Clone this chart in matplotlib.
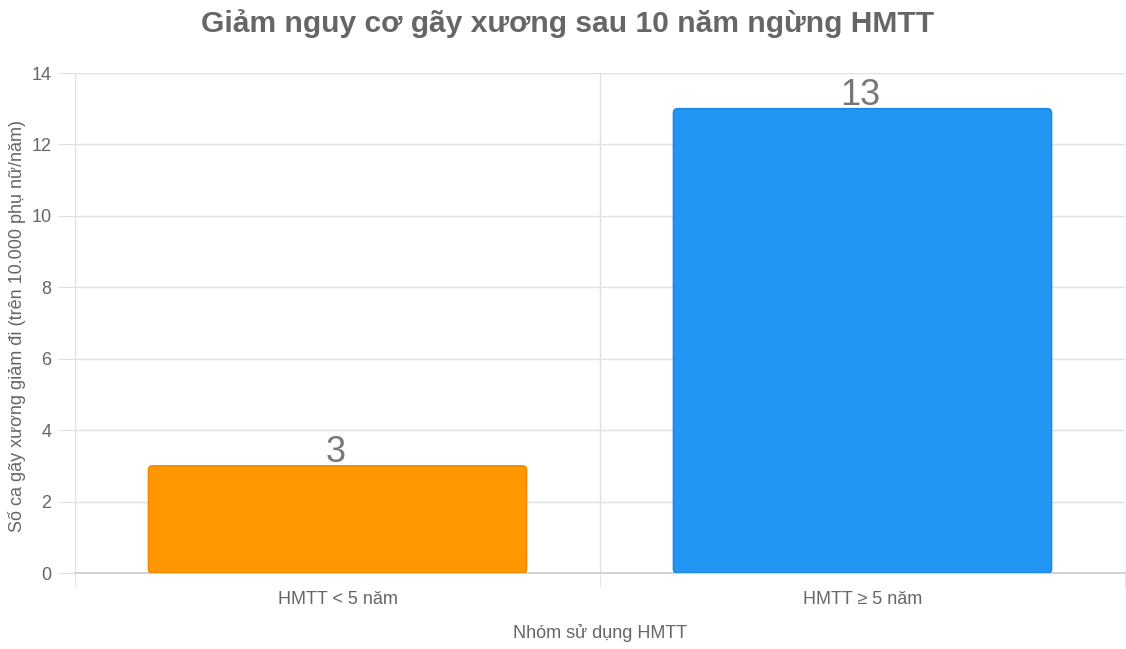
import matplotlib.pyplot as plt
from matplotlib.patches import FancyBboxPatch

plt.rcParams['font.family'] = ['Liberation Sans', 'DejaVu Sans']

# Dữ liệu
categories = ['HMTT < 5 năm', 'HMTT ≥ 5 năm']
values = [3, 13]
colors = ['#FF9800', '#2196F3']
edge_colors = ['#F08A00', '#1E88E5']

fig = plt.figure(figsize=(11.26, 6.49), dpi=100)
ax = fig.add_axes([0.0666, 0.117, 0.9325, 0.7705])

bars = ax.bar(range(len(categories)), values, width=0.72, color=colors,
              edgecolor=edge_colors, linewidth=1.2, zorder=3)

ax.set_xlim(-0.5, len(categories) - 0.5)
ax.set_ylim(0, 14)

# bo tròn góc trên của cột
aspect = (14 / 500) / (2 / 1050)
for b, fc, ec in zip(bars, colors, edge_colors):
    b.set_visible(False)
    p = FancyBboxPatch((b.get_x(), b.get_y()), b.get_width(), b.get_height(),
                       boxstyle='round,pad=0,rounding_size=0.008',
                       mutation_aspect=aspect, facecolor=fc, edgecolor=ec,
                       linewidth=1.2, zorder=3)
    ax.add_patch(p)
    ax.text(b.get_x() + b.get_width() / 2 - 0.004, b.get_height() + 0.11, str(int(b.get_height())),
            ha='center', va='baseline', fontsize=26, color='#777777', zorder=4)

ax.set_yticks(range(0, 15, 2))
ax.set_xticks(range(len(categories)))
ax.set_xticklabels(categories)
ax.set_xticks([-0.5, 0.5, 1.5], minor=True)

ax.tick_params(axis='y', length=12, color='#e0e0e0', labelsize=13, labelcolor='#666666', pad=5)
ax.tick_params(axis='x', which='major', length=0, labelsize=13, labelcolor='#666666', pad=13)
ax.tick_params(axis='x', which='minor', length=10, color='#e0e0e0')

ax.grid(axis='y', color='#e0e0e0', linewidth=1, zorder=0)
ax.grid(axis='x', which='minor', color='#e0e0e0', linewidth=1, zorder=0)

for s in ['top', 'right', 'left']:
    ax.spines[s].set_visible(False)
ax.spines['bottom'].set_color('#cccccc')
ax.spines['bottom'].set_linewidth(1.2)

ax.set_xlabel('Nhóm sử dụng HMTT', fontsize=13, color='#666666')
ax.set_ylabel('Số ca gãy xương giảm đi (trên 10.000 phụ nữ/năm)', fontsize=13, color='#666666')
ax.xaxis.set_label_coords(0.5, -0.102)
ax.yaxis.set_label_coords(-0.047, 0.495)

fig.text(0.504, 0.963, 'Giảm nguy cơ gãy xương sau 10 năm ngừng HMTT', ha='center', va='center',
         fontsize=21.6, fontweight='bold', color='#666666')

fig.savefig('out.png', dpi=100)
